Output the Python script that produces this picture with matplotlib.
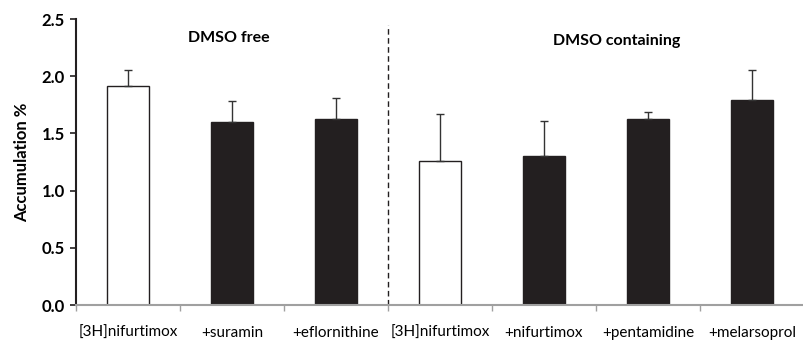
import numpy as np
import matplotlib.pyplot as plt
from matplotlib.ticker import FixedLocator

labels = ['[3H]nifurtimox', '+suramin', '+eflornithine',
          '[3H]nifurtimox', '+nifurtimox', '+pentamidine', '+melarsoprol']
values = [1.91, 1.60, 1.63, 1.26, 1.30, 1.63, 1.79]
errors = [0.14, 0.18, 0.18, 0.41, 0.31, 0.06, 0.26]
fills = ['white', '#231f20', '#231f20', 'white', '#231f20', '#231f20', '#231f20']

plt.rcParams['font.family'] = ['Lato', 'DejaVu Sans']

fig = plt.figure(figsize=(8.04, 3.4), dpi=100)
ax = fig.add_axes([76 / 804, 35 / 340, 728 / 804, 286 / 340])

x = np.arange(len(values))
ax.bar(x, values, width=0.4, color=fills, edgecolor='#231f20', linewidth=1.0, zorder=2)
ax.errorbar(x, values, yerr=[np.zeros(len(errors)), errors], fmt='none',
            ecolor='#333333', elinewidth=1.0, capsize=3, capthick=1.0, zorder=3)

ax.set_xlim(-0.5, len(values) - 0.5)
ax.set_ylim(0, 2.5)
ax.set_yticks([0, 0.5, 1.0, 1.5, 2.0, 2.5])
ax.set_yticklabels(['0.0', '0.5', '1.0', '1.5', '2.0', '2.5'], fontsize=12, fontweight='bold')
ax.set_ylabel('Accumulation %', fontsize=12, fontweight='bold', labelpad=8)

ax.set_xticks(x)
ax.set_xticklabels(labels, fontsize=11)
ax.tick_params(axis='x', which='major', length=0, pad=15)
ax.xaxis.set_minor_locator(FixedLocator(np.arange(-0.5, len(values), 1.0)))
ax.tick_params(axis='x', which='minor', length=4, color='#a0a0a0', width=1)
ax.tick_params(axis='y', length=4, width=1.2, color='#231f20', pad=4)

for s in ['top', 'right']:
    ax.spines[s].set_visible(False)
ax.spines['left'].set_linewidth(1.5)
ax.spines['left'].set_color('#231f20')
ax.spines['bottom'].set_color('#a0a0a0')
ax.spines['bottom'].set_linewidth(1.5)

ax.plot([2.5, 2.5], [0, 2.45], linestyle=(0, (4, 2.5)), color='#231f20', linewidth=1.0, zorder=1)

ax.text(0.97, 2.33, 'DMSO free', ha='center', va='center', fontsize=11.5, fontweight='bold')
ax.text(4.7, 2.31, 'DMSO containing', ha='center', va='center', fontsize=11.5, fontweight='bold')

fig.savefig('out.png', dpi=100)
